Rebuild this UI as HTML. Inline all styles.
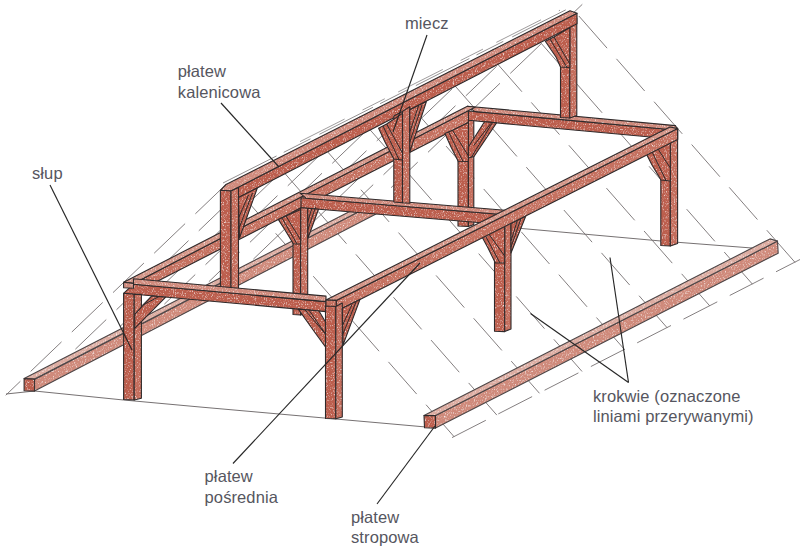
<!DOCTYPE html>
<html><head><meta charset="utf-8"><style>
html,body{margin:0;padding:0;background:#fff;}
#c{position:relative;width:800px;height:552px;overflow:hidden;background:#fff;}
svg{position:absolute;left:0;top:0;}
.t{position:absolute;font-family:"Liberation Sans",sans-serif;font-size:16.5px;line-height:21px;color:#565660;letter-spacing:0.1px;white-space:nowrap;}
</style></head><body><div id="c">
<svg width="800" height="552" viewBox="0 0 800 552">
<defs>
<filter id="tex" x="0" y="0" width="800" height="552" filterUnits="userSpaceOnUse" color-interpolation-filters="sRGB">
<feTurbulence type="fractalNoise" baseFrequency="1.1 0.55" numOctaves="2" seed="11" result="n"/>
<feColorMatrix in="n" type="matrix" values="0 0 0 0 1  0 0 0 0 1  0 0 0 0 1  -2.2 0 0 0 1.05" result="sp"/>
<feComposite in="sp" in2="SourceAlpha" operator="in"/>
</filter>
</defs>
<line x1="454.0" y1="436.6" x2="230.7" y2="182.1" stroke="#767172" stroke-width="0.9" stroke-dasharray="42 15" stroke-linecap="round"/>
<line x1="496.6" y1="414.8" x2="273.5" y2="160.5" stroke="#767172" stroke-width="0.9" stroke-dasharray="42 15" stroke-linecap="round"/>
<line x1="539.2" y1="393.0" x2="316.3" y2="138.9" stroke="#767172" stroke-width="0.9" stroke-dasharray="42 15" stroke-linecap="round"/>
<line x1="581.8" y1="371.2" x2="359.1" y2="117.3" stroke="#767172" stroke-width="0.9" stroke-dasharray="42 15" stroke-linecap="round"/>
<line x1="624.4" y1="349.4" x2="401.8" y2="95.6" stroke="#767172" stroke-width="0.9" stroke-dasharray="42 15" stroke-linecap="round"/>
<line x1="667.0" y1="327.6" x2="444.6" y2="74.0" stroke="#767172" stroke-width="0.9" stroke-dasharray="42 15" stroke-linecap="round"/>
<line x1="709.6" y1="305.7" x2="487.4" y2="52.4" stroke="#767172" stroke-width="0.9" stroke-dasharray="42 15" stroke-linecap="round"/>
<line x1="752.2" y1="283.9" x2="530.2" y2="30.8" stroke="#767172" stroke-width="0.9" stroke-dasharray="42 15" stroke-linecap="round"/>
<line x1="794.8" y1="262.1" x2="572.9" y2="9.2" stroke="#767172" stroke-width="0.9" stroke-dasharray="42 15" stroke-linecap="round"/>
<line x1="452.0" y1="437.6" x2="800.0" y2="259.5" stroke="#767172" stroke-width="0.9" stroke-dasharray="38 14"/>
<line x1="226.0" y1="184.5" x2="6.0" y2="395.0" stroke="#767172" stroke-width="0.9" stroke-dasharray="42 15" stroke-linecap="round"/>
<line x1="270.5" y1="162.0" x2="69.1" y2="355.2" stroke="#767172" stroke-width="0.9" stroke-dasharray="42 15" stroke-linecap="round"/>
<line x1="315.0" y1="139.5" x2="115.1" y2="331.2" stroke="#767172" stroke-width="0.9" stroke-dasharray="42 15" stroke-linecap="round"/>
<line x1="359.5" y1="117.0" x2="161.1" y2="307.3" stroke="#767172" stroke-width="0.9" stroke-dasharray="42 15" stroke-linecap="round"/>
<line x1="404.0" y1="94.6" x2="207.2" y2="283.3" stroke="#767172" stroke-width="0.9" stroke-dasharray="42 15" stroke-linecap="round"/>
<line x1="448.5" y1="72.1" x2="253.2" y2="259.3" stroke="#767172" stroke-width="0.9" stroke-dasharray="42 15" stroke-linecap="round"/>
<line x1="493.0" y1="49.6" x2="299.3" y2="235.4" stroke="#767172" stroke-width="0.9" stroke-dasharray="42 15" stroke-linecap="round"/>
<line x1="537.5" y1="27.1" x2="345.3" y2="211.4" stroke="#767172" stroke-width="0.9" stroke-dasharray="42 15" stroke-linecap="round"/>
<line x1="582.0" y1="4.6" x2="391.4" y2="187.4" stroke="#767172" stroke-width="0.9" stroke-dasharray="42 15" stroke-linecap="round"/>
<line x1="300.0" y1="141.6" x2="560.0" y2="10.2" stroke="#767172" stroke-width="0.7" stroke-dasharray="50 20 25 15"/>
<line x1="223.0" y1="183.0" x2="572.0" y2="6.7" stroke="#767172" stroke-width="0.8" stroke-dasharray="60 8 30 10"/>
<polyline points="6.0,394.0 34.5,391.0 123.6,400.0 200.0,407.0 330.0,418.5 426.0,427.0" fill="none" stroke="#767172" stroke-width="1.0" />
<polyline points="505.0,227.0 661.0,241.0 752.0,248.0" fill="none" stroke="#767172" stroke-width="1.0" />
<polygon points="34.5,379.6 360.0,211.0 376.0,213.9 34.5,391.1" fill="#cf8a7b"/>
<polygon points="34.5,379.6 360.0,211.0 376.0,213.9 34.5,391.1" fill="#fff" filter="url(#tex)"/>
<polygon points="34.5,379.6 360.0,211.0 376.0,213.9 34.5,391.1" fill="none" stroke="#4d4647" stroke-width="1.1" stroke-linejoin="round"/>
<polygon points="24.1,378.6 357.0,207.8 362.0,210.0 34.5,379.1" fill="#dcaca1"/>
<polygon points="24.1,378.6 357.0,207.8 362.0,210.0 34.5,379.1" fill="#fff" filter="url(#tex)"/>
<polygon points="24.1,378.6 357.0,207.8 362.0,210.0 34.5,379.1" fill="none" stroke="#4d4647" stroke-width="1.1" stroke-linejoin="round"/>
<polygon points="24.1,378.6 34.5,379.1 34.5,391.1 24.1,390.8" fill="#bc5e4d"/>
<polygon points="24.1,378.6 34.5,379.1 34.5,391.1 24.1,390.8" fill="#fff" filter="url(#tex)"/>
<polygon points="24.1,378.6 34.5,379.1 34.5,391.1 24.1,390.8" fill="none" stroke="#3a3334" stroke-width="1.1" stroke-linejoin="round"/>
<polygon points="660.8,132.0 670.3,133.0 670.3,246.0 660.8,245.5" fill="#bc5e4d"/>
<polygon points="660.8,132.0 670.3,133.0 670.3,246.0 660.8,245.5" fill="#fff" filter="url(#tex)"/>
<polygon points="660.8,132.0 670.3,133.0 670.3,246.0 660.8,245.5" fill="none" stroke="#2f2a2b" stroke-width="1.1" stroke-linejoin="round"/>
<polygon points="670.3,133.0 677.6,128.0 677.6,243.5 670.3,246.0" fill="#c46d5c"/>
<polygon points="670.3,133.0 677.6,128.0 677.6,243.5 670.3,246.0" fill="#fff" filter="url(#tex)"/>
<polygon points="670.3,133.0 677.6,128.0 677.6,243.5 670.3,246.0" fill="none" stroke="#2f2a2b" stroke-width="1.1" stroke-linejoin="round"/>
<polygon points="458.0,127.8 468.4,122.5 468.4,226.5 458.0,226.0" fill="#bc5e4d"/>
<polygon points="458.0,127.8 468.4,122.5 468.4,226.5 458.0,226.0" fill="#fff" filter="url(#tex)"/>
<polygon points="458.0,127.8 468.4,122.5 468.4,226.5 458.0,226.0" fill="none" stroke="#2f2a2b" stroke-width="1.1" stroke-linejoin="round"/>
<polygon points="468.4,116.0 473.8,113.0 473.8,224.5 468.4,226.5" fill="#c46d5c"/>
<polygon points="468.4,116.0 473.8,113.0 473.8,224.5 468.4,226.5" fill="#fff" filter="url(#tex)"/>
<polygon points="468.4,116.0 473.8,113.0 473.8,224.5 468.4,226.5" fill="none" stroke="#2f2a2b" stroke-width="1.1" stroke-linejoin="round"/>
<polygon points="468.4,111.0 677.6,130.2 677.6,139.5 468.4,120.3" fill="#bc5e4d"/>
<polygon points="468.4,111.0 677.6,130.2 677.6,139.5 468.4,120.3" fill="#fff" filter="url(#tex)"/>
<polygon points="468.4,111.0 677.6,130.2 677.6,139.5 468.4,120.3" fill="none" stroke="#2f2a2b" stroke-width="1.1" stroke-linejoin="round"/>
<polygon points="467.4,106.2 675.4,125.6 677.6,130.2 475.0,111.6" fill="#d08a7c"/>
<polygon points="467.4,106.2 675.4,125.6 677.6,130.2 475.0,111.6" fill="#fff" filter="url(#tex)"/>
<polygon points="467.4,106.2 675.4,125.6 677.6,130.2 475.0,111.6" fill="none" stroke="#2f2a2b" stroke-width="1.1" stroke-linejoin="round"/>
<polygon points="560.5,24.0 569.8,24.0 569.8,118.0 560.5,117.5" fill="#bc5e4d"/>
<polygon points="560.5,24.0 569.8,24.0 569.8,118.0 560.5,117.5" fill="#fff" filter="url(#tex)"/>
<polygon points="560.5,24.0 569.8,24.0 569.8,118.0 560.5,117.5" fill="none" stroke="#2f2a2b" stroke-width="1.1" stroke-linejoin="round"/>
<polygon points="569.8,22.0 576.8,18.0 576.8,115.5 569.8,118.0" fill="#c46d5c"/>
<polygon points="569.8,22.0 576.8,18.0 576.8,115.5 569.8,118.0" fill="#fff" filter="url(#tex)"/>
<polygon points="569.8,22.0 576.8,18.0 576.8,115.5 569.8,118.0" fill="none" stroke="#2f2a2b" stroke-width="1.1" stroke-linejoin="round"/>
<polygon points="545.3,41.3 554.0,37.0 569.8,27.5 569.8,67.5 560.5,67.0 556.0,57.0" fill="#bc5e4d"/>
<polygon points="545.3,41.3 554.0,37.0 569.8,27.5 569.8,67.5 560.5,67.0 556.0,57.0" fill="#fff" filter="url(#tex)"/>
<polygon points="545.3,41.3 554.0,37.0 569.8,27.5 569.8,67.5 560.5,67.0 556.0,57.0" fill="none" stroke="#2f2a2b" stroke-width="1.1" stroke-linejoin="round"/>
<line x1="554.0" y1="37.0" x2="569.8" y2="64.0" stroke="#2f2a2b" stroke-width="1.0" />
<line x1="550.0" y1="39.0" x2="567.0" y2="67.5" stroke="#2f2a2b" stroke-width="1.0" />
<polygon points="231.0,191.0 577.0,13.3 577.0,23.8 231.0,201.5" fill="#bc5e4d"/>
<polygon points="231.0,191.0 577.0,13.3 577.0,23.8 231.0,201.5" fill="#fff" filter="url(#tex)"/>
<polygon points="231.0,191.0 577.0,13.3 577.0,23.8 231.0,201.5" fill="none" stroke="#2f2a2b" stroke-width="1.1" stroke-linejoin="round"/>
<polygon points="220.4,190.3 226.0,184.5 570.0,10.7 577.0,13.3 231.0,191.0" fill="#d08a7c"/>
<polygon points="220.4,190.3 226.0,184.5 570.0,10.7 577.0,13.3 231.0,191.0" fill="#fff" filter="url(#tex)"/>
<polygon points="220.4,190.3 226.0,184.5 570.0,10.7 577.0,13.3 231.0,191.0" fill="none" stroke="#2f2a2b" stroke-width="1.1" stroke-linejoin="round"/>
<polygon points="133.5,283.4 468.4,110.4 468.4,122.5 133.5,293.4" fill="#c57160"/>
<polygon points="133.5,283.4 468.4,110.4 468.4,122.5 133.5,293.4" fill="#fff" filter="url(#tex)"/>
<polygon points="133.5,283.4 468.4,110.4 468.4,122.5 133.5,293.4" fill="none" stroke="#2f2a2b" stroke-width="1.1" stroke-linejoin="round"/>
<polygon points="123.6,282.2 467.4,106.2 475.0,107.3 133.5,283.4" fill="#d49587"/>
<polygon points="123.6,282.2 467.4,106.2 475.0,107.3 133.5,283.4" fill="#fff" filter="url(#tex)"/>
<polygon points="123.6,282.2 467.4,106.2 475.0,107.3 133.5,283.4" fill="none" stroke="#2f2a2b" stroke-width="1.1" stroke-linejoin="round"/>
<polygon points="301.0,197.8 505.0,214.7 505.0,224.7 301.0,207.8" fill="#bc5e4d"/>
<polygon points="301.0,197.8 505.0,214.7 505.0,224.7 301.0,207.8" fill="#fff" filter="url(#tex)"/>
<polygon points="301.0,197.8 505.0,214.7 505.0,224.7 301.0,207.8" fill="none" stroke="#2f2a2b" stroke-width="1.1" stroke-linejoin="round"/>
<polygon points="300.0,193.2 505.0,210.2 505.0,214.7 306.0,198.2" fill="#d08a7c"/>
<polygon points="300.0,193.2 505.0,210.2 505.0,214.7 306.0,198.2" fill="#fff" filter="url(#tex)"/>
<polygon points="300.0,193.2 505.0,210.2 505.0,214.7 306.0,198.2" fill="none" stroke="#2f2a2b" stroke-width="1.1" stroke-linejoin="round"/>
<polygon points="393.8,115.9 402.5,111.4 402.5,202.7 393.8,202.0" fill="#bc5e4d"/>
<polygon points="393.8,115.9 402.5,111.4 402.5,202.7 393.8,202.0" fill="#fff" filter="url(#tex)"/>
<polygon points="393.8,115.9 402.5,111.4 402.5,202.7 393.8,202.0" fill="none" stroke="#2f2a2b" stroke-width="1.1" stroke-linejoin="round"/>
<polygon points="402.5,111.4 409.8,106.7 409.8,203.3 402.5,202.7" fill="#c46d5c"/>
<polygon points="402.5,111.4 409.8,106.7 409.8,203.3 402.5,202.7" fill="#fff" filter="url(#tex)"/>
<polygon points="402.5,111.4 409.8,106.7 409.8,203.3 402.5,202.7" fill="none" stroke="#2f2a2b" stroke-width="1.1" stroke-linejoin="round"/>
<polygon points="378.6,128.3 386.6,124.0 402.5,113.4 402.5,160.0 393.8,159.0 385.0,142.0" fill="#bc5e4d"/>
<polygon points="378.6,128.3 386.6,124.0 402.5,113.4 402.5,160.0 393.8,159.0 385.0,142.0" fill="#fff" filter="url(#tex)"/>
<polygon points="378.6,128.3 386.6,124.0 402.5,113.4 402.5,160.0 393.8,159.0 385.0,142.0" fill="none" stroke="#2f2a2b" stroke-width="1.1" stroke-linejoin="round"/>
<line x1="386.6" y1="124.0" x2="402.5" y2="153.0" stroke="#2f2a2b" stroke-width="1.0" />
<line x1="383.0" y1="126.0" x2="399.0" y2="159.5" stroke="#2f2a2b" stroke-width="1.0" />
<polygon points="409.8,109.7 426.4,101.5 409.8,152.0" fill="#bc5e4d"/>
<polygon points="409.8,109.7 426.4,101.5 409.8,152.0" fill="#fff" filter="url(#tex)"/>
<polygon points="409.8,109.7 426.4,101.5 409.8,152.0" fill="none" stroke="#2f2a2b" stroke-width="1.1" stroke-linejoin="round"/>
<line x1="418.5" y1="106.0" x2="409.8" y2="132.0" stroke="#2f2a2b" stroke-width="1.0" />
<line x1="422.0" y1="105.0" x2="409.8" y2="142.0" stroke="#2f2a2b" stroke-width="1.0" />
<polygon points="220.4,190.3 231.0,191.0 231.0,292.0 220.4,291.5" fill="#bc5e4d"/>
<polygon points="220.4,190.3 231.0,191.0 231.0,292.0 220.4,291.5" fill="#fff" filter="url(#tex)"/>
<polygon points="220.4,190.3 231.0,191.0 231.0,292.0 220.4,291.5" fill="none" stroke="#2f2a2b" stroke-width="1.1" stroke-linejoin="round"/>
<polygon points="231.0,191.0 238.5,187.5 238.5,289.0 231.0,292.0" fill="#c46d5c"/>
<polygon points="231.0,191.0 238.5,187.5 238.5,289.0 231.0,292.0" fill="#fff" filter="url(#tex)"/>
<polygon points="231.0,191.0 238.5,187.5 238.5,289.0 231.0,292.0" fill="none" stroke="#2f2a2b" stroke-width="1.1" stroke-linejoin="round"/>
<polygon points="238.5,197.6 257.3,188.0 239.5,238.0" fill="#bc5e4d"/>
<polygon points="238.5,197.6 257.3,188.0 239.5,238.0" fill="#fff" filter="url(#tex)"/>
<polygon points="238.5,197.6 257.3,188.0 239.5,238.0" fill="none" stroke="#2f2a2b" stroke-width="1.1" stroke-linejoin="round"/>
<line x1="248.5" y1="195.0" x2="239.0" y2="217.0" stroke="#2f2a2b" stroke-width="1.0" />
<line x1="252.5" y1="193.0" x2="239.2" y2="228.0" stroke="#2f2a2b" stroke-width="1.0" />
<polygon points="293.0,212.0 300.6,208.1 300.6,315.0 293.0,314.5" fill="#bc5e4d"/>
<polygon points="293.0,212.0 300.6,208.1 300.6,315.0 293.0,314.5" fill="#fff" filter="url(#tex)"/>
<polygon points="293.0,212.0 300.6,208.1 300.6,315.0 293.0,314.5" fill="none" stroke="#2f2a2b" stroke-width="1.1" stroke-linejoin="round"/>
<polygon points="300.6,207.7 307.7,208.3 307.7,313.0 300.6,315.0" fill="#c46d5c"/>
<polygon points="300.6,207.7 307.7,208.3 307.7,313.0 300.6,315.0" fill="#fff" filter="url(#tex)"/>
<polygon points="300.6,207.7 307.7,208.3 307.7,313.0 300.6,315.0" fill="none" stroke="#2f2a2b" stroke-width="1.1" stroke-linejoin="round"/>
<polygon points="278.3,219.4 286.0,216.0 300.6,209.5 300.6,244.0 293.5,244.0 285.0,230.0" fill="#bc5e4d"/>
<polygon points="278.3,219.4 286.0,216.0 300.6,209.5 300.6,244.0 293.5,244.0 285.0,230.0" fill="#fff" filter="url(#tex)"/>
<polygon points="278.3,219.4 286.0,216.0 300.6,209.5 300.6,244.0 293.5,244.0 285.0,230.0" fill="none" stroke="#2f2a2b" stroke-width="1.1" stroke-linejoin="round"/>
<line x1="286.0" y1="216.0" x2="300.6" y2="240.0" stroke="#2f2a2b" stroke-width="1.0" />
<line x1="282.0" y1="218.0" x2="297.0" y2="244.0" stroke="#2f2a2b" stroke-width="1.0" />
<polygon points="307.7,208.3 318.5,209.2 308.0,238.0" fill="#bc5e4d"/>
<polygon points="307.7,208.3 318.5,209.2 308.0,238.0" fill="#fff" filter="url(#tex)"/>
<polygon points="307.7,208.3 318.5,209.2 308.0,238.0" fill="none" stroke="#2f2a2b" stroke-width="1.1" stroke-linejoin="round"/>
<line x1="312.0" y1="208.0" x2="307.7" y2="222.0" stroke="#2f2a2b" stroke-width="1.0" />
<line x1="315.5" y1="207.2" x2="307.8" y2="230.0" stroke="#2f2a2b" stroke-width="1.0" />
<polygon points="494.5,223.3 504.7,224.7 504.7,331.6 494.5,331.2" fill="#bc5e4d"/>
<polygon points="494.5,223.3 504.7,224.7 504.7,331.6 494.5,331.2" fill="#fff" filter="url(#tex)"/>
<polygon points="494.5,223.3 504.7,224.7 504.7,331.6 494.5,331.2" fill="none" stroke="#2f2a2b" stroke-width="1.1" stroke-linejoin="round"/>
<polygon points="504.7,224.7 511.0,222.7 511.0,329.0 504.7,331.6" fill="#c46d5c"/>
<polygon points="504.7,224.7 511.0,222.7 511.0,329.0 504.7,331.6" fill="#fff" filter="url(#tex)"/>
<polygon points="504.7,224.7 511.0,222.7 511.0,329.0 504.7,331.6" fill="none" stroke="#2f2a2b" stroke-width="1.1" stroke-linejoin="round"/>
<polygon points="481.8,236.5 488.3,233.3 504.7,225.0 504.7,263.0 495.4,263.0 488.0,248.0" fill="#bc5e4d"/>
<polygon points="481.8,236.5 488.3,233.3 504.7,225.0 504.7,263.0 495.4,263.0 488.0,248.0" fill="#fff" filter="url(#tex)"/>
<polygon points="481.8,236.5 488.3,233.3 504.7,225.0 504.7,263.0 495.4,263.0 488.0,248.0" fill="none" stroke="#2f2a2b" stroke-width="1.1" stroke-linejoin="round"/>
<line x1="488.3" y1="233.3" x2="504.7" y2="256.0" stroke="#2f2a2b" stroke-width="1.0" />
<line x1="485.0" y1="235.0" x2="500.0" y2="263.0" stroke="#2f2a2b" stroke-width="1.0" />
<polygon points="511.0,223.4 525.8,216.0 511.0,253.0" fill="#bc5e4d"/>
<polygon points="511.0,223.4 525.8,216.0 511.0,253.0" fill="#fff" filter="url(#tex)"/>
<polygon points="511.0,223.4 525.8,216.0 511.0,253.0" fill="none" stroke="#2f2a2b" stroke-width="1.1" stroke-linejoin="round"/>
<line x1="517.6" y1="219.5" x2="511.0" y2="241.0" stroke="#2f2a2b" stroke-width="1.0" />
<line x1="521.5" y1="217.0" x2="511.0" y2="247.0" stroke="#2f2a2b" stroke-width="1.0" />
<polygon points="444.9,133.4 452.5,130.2 468.4,122.5 468.4,161.5 458.2,161.3 451.0,147.0" fill="#bc5e4d"/>
<polygon points="444.9,133.4 452.5,130.2 468.4,122.5 468.4,161.5 458.2,161.3 451.0,147.0" fill="#fff" filter="url(#tex)"/>
<polygon points="444.9,133.4 452.5,130.2 468.4,122.5 468.4,161.5 458.2,161.3 451.0,147.0" fill="none" stroke="#2f2a2b" stroke-width="1.1" stroke-linejoin="round"/>
<line x1="452.5" y1="130.2" x2="468.4" y2="156.0" stroke="#2f2a2b" stroke-width="1.0" />
<line x1="448.5" y1="131.8" x2="463.0" y2="161.4" stroke="#2f2a2b" stroke-width="1.0" />
<polygon points="484.5,121.8 496.5,122.9 474.0,156.5 468.4,158.0 468.4,147.0" fill="#bc5e4d"/>
<polygon points="484.5,121.8 496.5,122.9 474.0,156.5 468.4,158.0 468.4,147.0" fill="#fff" filter="url(#tex)"/>
<polygon points="484.5,121.8 496.5,122.9 474.0,156.5 468.4,158.0 468.4,147.0" fill="none" stroke="#2f2a2b" stroke-width="1.1" stroke-linejoin="round"/>
<line x1="492.5" y1="122.5" x2="471.5" y2="157.0" stroke="#2f2a2b" stroke-width="1.0" />
<line x1="490.7" y1="123.5" x2="473.8" y2="145.5" stroke="#2f2a2b" stroke-width="1.0" />
<polygon points="133.5,284.2 326.0,301.6 326.0,311.6 123.6,293.3" fill="#bc5e4d"/>
<polygon points="133.5,284.2 326.0,301.6 326.0,311.6 123.6,293.3" fill="#fff" filter="url(#tex)"/>
<polygon points="133.5,284.2 326.0,301.6 326.0,311.6 123.6,293.3" fill="none" stroke="#2f2a2b" stroke-width="1.1" stroke-linejoin="round"/>
<polygon points="133.5,278.7 326.0,296.1 326.0,301.6 133.5,284.2" fill="#d08a7c"/>
<polygon points="133.5,278.7 326.0,296.1 326.0,301.6 133.5,284.2" fill="#fff" filter="url(#tex)"/>
<polygon points="133.5,278.7 326.0,296.1 326.0,301.6 133.5,284.2" fill="none" stroke="#2f2a2b" stroke-width="1.1" stroke-linejoin="round"/>
<polygon points="123.6,282.2 133.5,283.4 133.5,288.3 123.6,287.7" fill="#d08a7c"/>
<polygon points="123.6,282.2 133.5,283.4 133.5,288.3 123.6,287.7" fill="#fff" filter="url(#tex)"/>
<polygon points="123.6,282.2 133.5,283.4 133.5,288.3 123.6,287.7" fill="none" stroke="#2f2a2b" stroke-width="1.1" stroke-linejoin="round"/>
<polygon points="645.7,152.7 656.5,146.7 670.3,143.3 670.3,181.0 661.0,180.0 652.0,165.0" fill="#bc5e4d"/>
<polygon points="645.7,152.7 656.5,146.7 670.3,143.3 670.3,181.0 661.0,180.0 652.0,165.0" fill="#fff" filter="url(#tex)"/>
<polygon points="645.7,152.7 656.5,146.7 670.3,143.3 670.3,181.0 661.0,180.0 652.0,165.0" fill="none" stroke="#2f2a2b" stroke-width="1.1" stroke-linejoin="round"/>
<line x1="656.5" y1="146.7" x2="670.3" y2="168.0" stroke="#2f2a2b" stroke-width="1.0" />
<line x1="651.0" y1="149.7" x2="666.0" y2="180.5" stroke="#2f2a2b" stroke-width="1.0" />
<polygon points="336.2,300.4 677.6,128.6 677.6,139.6 336.2,311.4" fill="#c57160"/>
<polygon points="336.2,300.4 677.6,128.6 677.6,139.6 336.2,311.4" fill="#fff" filter="url(#tex)"/>
<polygon points="336.2,300.4 677.6,128.6 677.6,139.6 336.2,311.4" fill="none" stroke="#2f2a2b" stroke-width="1.1" stroke-linejoin="round"/>
<polygon points="326.0,300.0 670.0,127.0 677.6,128.6 336.2,300.4" fill="#d49587"/>
<polygon points="326.0,300.0 670.0,127.0 677.6,128.6 336.2,300.4" fill="#fff" filter="url(#tex)"/>
<polygon points="326.0,300.0 670.0,127.0 677.6,128.6 336.2,300.4" fill="none" stroke="#2f2a2b" stroke-width="1.1" stroke-linejoin="round"/>
<polygon points="326.0,300.0 336.2,300.4 336.2,311.4 326.0,310.0" fill="#c46d5c"/>
<polygon points="326.0,300.0 336.2,300.4 336.2,311.4 326.0,310.0" fill="#fff" filter="url(#tex)"/>
<polygon points="326.0,300.0 336.2,300.4 336.2,311.4 326.0,310.0" fill="none" stroke="#2f2a2b" stroke-width="1.1" stroke-linejoin="round"/>
<polygon points="123.6,293.3 134.2,294.2 134.2,400.0 123.6,399.5" fill="#bc5e4d"/>
<polygon points="123.6,293.3 134.2,294.2 134.2,400.0 123.6,399.5" fill="#fff" filter="url(#tex)"/>
<polygon points="123.6,293.3 134.2,294.2 134.2,400.0 123.6,399.5" fill="none" stroke="#2f2a2b" stroke-width="1.1" stroke-linejoin="round"/>
<polygon points="134.2,294.2 141.4,294.4 141.4,398.3 134.2,400.0" fill="#c46d5c"/>
<polygon points="134.2,294.2 141.4,294.4 141.4,398.3 134.2,400.0" fill="#fff" filter="url(#tex)"/>
<polygon points="134.2,294.2 141.4,294.4 141.4,398.3 134.2,400.0" fill="none" stroke="#2f2a2b" stroke-width="1.1" stroke-linejoin="round"/>
<polygon points="134.7,314.3 151.8,295.9 165.7,297.2 134.7,328.3" fill="#bc5e4d"/>
<polygon points="134.7,314.3 151.8,295.9 165.7,297.2 134.7,328.3" fill="#fff" filter="url(#tex)"/>
<polygon points="134.7,314.3 151.8,295.9 165.7,297.2 134.7,328.3" fill="none" stroke="#2f2a2b" stroke-width="1.1" stroke-linejoin="round"/>
<line x1="143.0" y1="305.0" x2="159.0" y2="296.5" stroke="#2f2a2b" stroke-width="1.0" />
<polygon points="325.5,306.0 335.8,306.5 335.8,418.8 325.5,418.5" fill="#bc5e4d"/>
<polygon points="325.5,306.0 335.8,306.5 335.8,418.8 325.5,418.5" fill="#fff" filter="url(#tex)"/>
<polygon points="325.5,306.0 335.8,306.5 335.8,418.8 325.5,418.5" fill="none" stroke="#2f2a2b" stroke-width="1.1" stroke-linejoin="round"/>
<polygon points="335.8,306.5 342.3,303.0 342.3,417.0 335.8,418.8" fill="#c46d5c"/>
<polygon points="335.8,306.5 342.3,303.0 342.3,417.0 335.8,418.8" fill="#fff" filter="url(#tex)"/>
<polygon points="335.8,306.5 342.3,303.0 342.3,417.0 335.8,418.8" fill="none" stroke="#2f2a2b" stroke-width="1.1" stroke-linejoin="round"/>
<polygon points="298.3,309.1 319.0,311.0 325.5,322.0 325.5,347.0 316.0,334.0" fill="#bc5e4d"/>
<polygon points="298.3,309.1 319.0,311.0 325.5,322.0 325.5,347.0 316.0,334.0" fill="#fff" filter="url(#tex)"/>
<polygon points="298.3,309.1 319.0,311.0 325.5,322.0 325.5,347.0 316.0,334.0" fill="none" stroke="#2f2a2b" stroke-width="1.1" stroke-linejoin="round"/>
<line x1="309.0" y1="310.1" x2="325.5" y2="334.0" stroke="#2f2a2b" stroke-width="1.0" />
<line x1="304.5" y1="309.3" x2="325.5" y2="334.0" stroke="#2f2a2b" stroke-width="1.0" />
<polygon points="342.3,308.3 360.0,299.4 343.0,345.0" fill="#bc5e4d"/>
<polygon points="342.3,308.3 360.0,299.4 343.0,345.0" fill="#fff" filter="url(#tex)"/>
<polygon points="342.3,308.3 360.0,299.4 343.0,345.0" fill="none" stroke="#2f2a2b" stroke-width="1.1" stroke-linejoin="round"/>
<line x1="352.0" y1="304.5" x2="342.3" y2="326.0" stroke="#2f2a2b" stroke-width="1.0" />
<line x1="356.0" y1="302.0" x2="342.5" y2="335.0" stroke="#2f2a2b" stroke-width="1.0" />
<polygon points="435.5,415.6 777.5,241.1 778.2,253.2 435.5,428.1" fill="#cf8a7b"/>
<polygon points="435.5,415.6 777.5,241.1 778.2,253.2 435.5,428.1" fill="#fff" filter="url(#tex)"/>
<polygon points="435.5,415.6 777.5,241.1 778.2,253.2 435.5,428.1" fill="none" stroke="#4d4647" stroke-width="1.1" stroke-linejoin="round"/>
<polygon points="424.0,415.5 770.0,238.9 777.5,241.1 435.5,415.6" fill="#dcaca1"/>
<polygon points="424.0,415.5 770.0,238.9 777.5,241.1 435.5,415.6" fill="#fff" filter="url(#tex)"/>
<polygon points="424.0,415.5 770.0,238.9 777.5,241.1 435.5,415.6" fill="none" stroke="#4d4647" stroke-width="1.1" stroke-linejoin="round"/>
<polygon points="424.0,415.5 435.5,415.6 435.5,428.1 424.5,427.7" fill="#bc5e4d"/>
<polygon points="424.0,415.5 435.5,415.6 435.5,428.1 424.5,427.7" fill="#fff" filter="url(#tex)"/>
<polygon points="424.0,415.5 435.5,415.6 435.5,428.1 424.5,427.7" fill="none" stroke="#2f2a2b" stroke-width="1.1" stroke-linejoin="round"/>
<line x1="221.0" y1="103.0" x2="279.0" y2="167.0" stroke="#262626" stroke-width="1.15" />
<line x1="50.0" y1="185.0" x2="132.0" y2="350.0" stroke="#262626" stroke-width="1.15" />
<line x1="427.0" y1="35.0" x2="393.0" y2="132.0" stroke="#262626" stroke-width="1.15" />
<line x1="233.0" y1="463.5" x2="420.0" y2="263.0" stroke="#262626" stroke-width="1.15" />
<line x1="377.0" y1="504.0" x2="435.0" y2="426.0" stroke="#262626" stroke-width="1.15" />
<line x1="628.5" y1="382.5" x2="530.5" y2="313.5" stroke="#262626" stroke-width="1.15" />
<line x1="628.5" y1="382.5" x2="610.0" y2="257.5" stroke="#262626" stroke-width="1.15" />
</svg>
<div class="t" style="left:177.8px;top:60.5px">płatew</div>
<div class="t" style="left:177.8px;top:81.5px">kalenicowa</div>
<div class="t" style="left:405px;top:13.3px">miecz</div>
<div class="t" style="left:32px;top:162.8px">słup</div>
<div class="t" style="left:204.6px;top:465.9px">płatew</div>
<div class="t" style="left:204.6px;top:486.5px">pośrednia</div>
<div class="t" style="left:351px;top:507.1px">płatew</div>
<div class="t" style="left:351px;top:527.1px">stropowa</div>
<div class="t" style="left:593px;top:385.5px">krokwie (oznaczone</div>
<div class="t" style="left:593px;top:406.3px">liniami przerywanymi)</div>
</div></body></html>
